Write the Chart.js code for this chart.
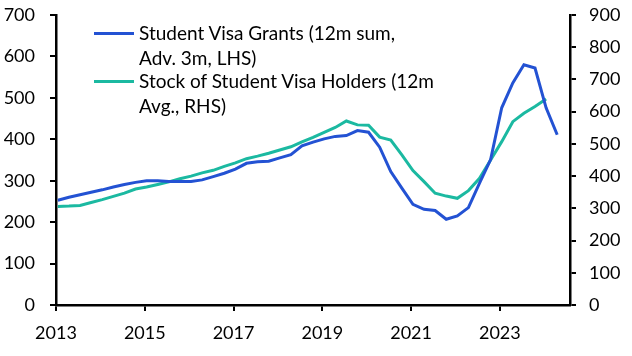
<!DOCTYPE html>
<html>
<head>
<meta charset="utf-8">
<script src="https://cdn.jsdelivr.net/npm/chart.js@4"></script>
<style>
html,body{margin:0;padding:0;background:#fff;}
#wrap{position:relative;width:632px;height:356px;overflow:hidden;}
#c{display:block;}
.lg{position:absolute;font-family:Lato,"Open Sans",sans-serif;font-size:19px;line-height:25px;color:#000;white-space:nowrap;}
.sw{position:absolute;height:3px;width:40px;}
</style>
</head>
<body>
<div id="wrap">
<canvas id="c" width="632" height="356"></canvas>
<div class="sw" id="sw1" style="left:94px;top:32px;background:#2352d3;"></div>
<div class="lg" id="t1" style="left:139px;top:20px;">Student Visa Grants (12m sum,<br>Adv. 3m, LHS)</div>
<div class="sw" id="sw2" style="left:94px;top:80px;background:#1bb9a1;"></div>
<div class="lg" id="t2" style="left:139px;top:68px;">Stock of Student Visa Holders (12m<br>Avg., RHS)</div>
</div>
<script>
// Quarterly observation months (YYYY-MM)
const periods = [
  '2013-01','2013-04','2013-07','2013-10',
  '2014-01','2014-04','2014-07','2014-10',
  '2015-01','2015-04','2015-07','2015-10',
  '2016-01','2016-04','2016-07','2016-10',
  '2017-01','2017-04','2017-07','2017-10',
  '2018-01','2018-04','2018-07','2018-10',
  '2019-01','2019-04','2019-07','2019-10',
  '2020-01','2020-04','2020-07','2020-10',
  '2021-01','2021-04','2021-07','2021-10',
  '2022-01','2022-04','2022-07','2022-10',
  '2023-01','2023-04','2023-07','2023-10',
  '2024-01','2024-04'
];
// Student Visa Grants (12m sum, Adv. 3m) - thousands, LHS
const grants = [
  253,260,266,272, 278,285,291,296, 300,300,298,298,
  298,302,310,318, 328,342,346,347, 355,363,384,393,
  401,407,409,421, 417,381,322,282, 243,231,228,207,
  215,235,294,351, 476,536,580,572, 476,411
];
// Stock of Student Visa Holders (12m Avg.) - thousands, RHS
const stock = [
  306,307,309,318, 327,337,347,360, 366,374,382,392,
  400,410,418,430, 441,454,462,471, 481,491,506,520,
  536,551,571,559, 558,521,512,466, 417,383,347,338,
  331,355,393,450, 507,569,595,616, 639
];
const xTickYears = [2013,2015,2017,2019,2021,2023];
const leftTicksMax = 700, rightTicksMax = 900, tickStep = 100;

function toX(p){const a=p.split('-').map(Number);return a[0]+(a[1]-0.5)/12;}

const FONT = {family:'Lato, "Open Sans", sans-serif', size:18};
const INK = '#000';

function fitY(w){return s=>{s.width=w;s.paddingTop=0;s.paddingBottom=0;};}

new Chart(document.getElementById('c'), {
  type:'line',
  data:{
    datasets:[
      {label:'Student Visa Grants (12m sum, Adv. 3m, LHS)',
       data:grants.map((v,i)=>({x:toX(periods[i]),y:v})),
       yAxisID:'yL', borderColor:'#2352d3', borderWidth:3, pointRadius:0, tension:0, fill:false},
      {label:'Stock of Student Visa Holders (12m Avg., RHS)',
       data:stock.map((v,i)=>({x:toX(periods[i]),y:v})),
       yAxisID:'yR', borderColor:'#1bb9a1', borderWidth:3, pointRadius:0, tension:0, fill:false}
    ]
  },
  options:{
    responsive:false, animation:false, devicePixelRatio:1,
    layout:{padding:{top:15,left:0,right:0,bottom:0}},
    plugins:{legend:{display:false}, tooltip:{enabled:false}},
    scales:{
      x:{type:'linear', min:2013, max:2024.58,
        afterBuildTicks:s=>{s.ticks=xTickYears.map(v=>({value:v}));},
        afterFit:s=>{s.height=51;s.paddingLeft=0;s.paddingRight=0;},
        ticks:{callback:v=>String(v), font:FONT, color:INK, padding:11, maxRotation:0, autoSkip:false},
        grid:{display:true, drawOnChartArea:false, drawTicks:true, tickLength:6, color:'#000', lineWidth:2},
        border:{display:true, color:'#000', width:2.5}
      },
      yL:{type:'linear', position:'left', min:0, max:leftTicksMax,
        afterFit:fitY(56),
        ticks:{stepSize:tickStep, font:FONT, color:INK, padding:15},
        grid:{display:true, drawOnChartArea:false, drawTicks:true, tickLength:6, color:'#000', lineWidth:2},
        border:{display:true, color:'#000', width:2.5}
      },
      yR:{type:'linear', position:'right', min:0, max:rightTicksMax,
        afterFit:fitY(62),
        ticks:{stepSize:tickStep, font:FONT, color:INK, padding:13},
        grid:{display:true, drawOnChartArea:false, drawTicks:true, tickLength:6, color:'#000', lineWidth:2},
        border:{display:true, color:'#000', width:2.5}
      }
    }
  }
});
</script>
</body>
</html>
